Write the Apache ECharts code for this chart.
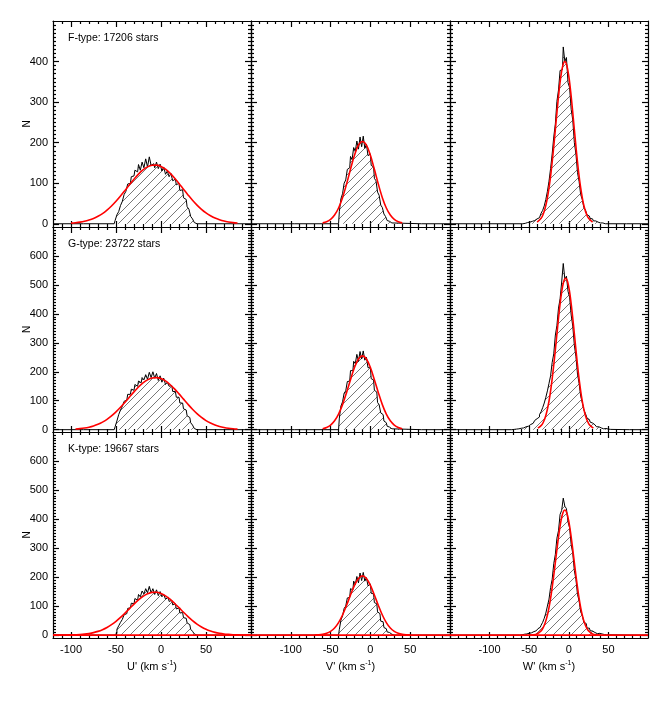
<!DOCTYPE html>
<html>
<head>
<meta charset="utf-8">
<script src="https://cdn.jsdelivr.net/npm/echarts@6/dist/echarts.min.js"></script>
<style>
  html, body { margin: 0; padding: 0; background: #fff; }
  #chart { width: 661px; height: 709px; }
</style>
</head>
<body>
<div id="chart"></div>
<script>
// ---- data ----
const panelTitles = ['F-type: 17206 stars', 'G-type: 23722 stars', 'K-type: 19667 stars'];
const velNames = ["U'", "V'", "W'"];
const xTickLabels = [-100, -50, 0, 50];
const yTickLabelsTop = [0, 100, 200, 300, 400];
const yTickLabelsLow = [0, 100, 200, 300, 400, 500, 600];

// histograms, 2 km/s bins, first bin centre per panel [row][col]
const histStart = [[-50, -38, -56], [-50, -38, -70], [-50, -38, -60]];
const histFU = [8,22,30,45,55,72,80,98,100,116,118,132,128,146,132,152,138,160,140,165,144,148,138,152,136,147,130,140,122,130,116,124,106,110,96,100,82,84,64,60,42,36,18,12,3];
const histFV = [30,62,74,100,108,134,138,166,158,188,178,204,184,214,190,216,186,196,168,172,144,140,112,106,78,70,46,40,24,18,8,6,2];
const histFW = [1,2,3,4,5,6,8,10,12,15,19,26,33,44,60,80,105,136,172,214,246,302,330,378,380,436,400,410,348,336,282,256,200,172,126,104,72,60,40,34,22,19,13,12,7,7,4,5,2,2,1];
const histGU = [10,30,52,68,80,98,102,122,122,140,136,156,150,168,162,180,172,190,174,198,180,200,178,194,170,186,164,178,156,164,150,152,132,132,112,112,92,92,72,68,48,42,24,16,4];
const histGV = [40,82,96,126,134,166,168,204,204,236,228,260,236,270,244,272,240,250,214,214,176,172,136,130,94,86,58,52,30,24,12,9,3];
const histGW = [1,2,2,3,4,5,6,8,10,12,15,18,22,27,32,38,44,52,62,76,92,112,134,160,186,232,262,326,360,420,452,510,574,520,530,478,458,396,358,292,252,192,160,116,94,68,56,40,35,26,23,17,15,10,10,6,6,3,4,2,2,1];
const histKU = [6,20,32,44,54,70,74,92,94,110,108,126,120,140,132,152,142,160,146,168,146,160,140,156,136,150,132,140,124,130,116,120,104,108,90,94,76,78,60,58,42,36,20,13,4];
const histKV = [20,52,66,92,100,128,130,160,156,186,174,202,180,214,188,216,186,198,170,176,144,142,112,108,80,74,48,46,26,22,11,9,3,1];
const histKW = [1,2,3,4,5,6,8,10,12,15,18,22,27,34,44,58,76,100,124,164,192,246,278,334,360,416,430,472,444,436,390,370,312,282,222,192,140,118,80,68,44,40,24,24,15,14,9,9,5,6,3,4,2,2,1,1];

// gaussian fits (red), sampled from the curves
const fitXU = [-120,-115,-110,-105,-100,-95,-90,-85,-80,-75,-70,-65,-60,-55,-50,-45,-40,-35,-30,-25,-20,-15,-10,-5,0,5,10,15,20,25,30,35,40,45,50,55,60,65,70,75,80,85,90,95,100];
const fitXV = [-70,-65,-60,-55,-50,-45,-40,-35,-30,-25,-20,-15,-10,-5,0,5,10,15,20,25,30,35,40,45,50];
const fitXW5 = [-50,-45,-40,-35,-32.5,-30,-27.5,-25,-22.5,-20,-17.5,-15,-12.5,-10,-7.5,-5,-2.5,0,2.5,5,7.5,10,12.5,15,17.5,20,22.5,25,30,35,40];
const fitXW4 = [-49,-44,-39,-34,-31.5,-29,-26.5,-24,-21.5,-19,-16.5,-14,-11.5,-9,-6.5,-4,-1.5,1,3.5,6,8.5,11,13.5,16,18.5,21,23.5,26,31,36,41];
const fitFU = [0.2,0.3,0.6,1,1.6,2.6,4,6.1,9.1,13,18.4,25,33.6,43.8,55.4,68.4,82.3,96.4,110,122.5,132.8,140.2,144.3,144.7,141.3,134.5,124.8,112.7,99.2,85.1,71.2,57.9,46,35.5,26.7,19.6,14,9.8,6.6,4.4,2.8,1.8,1.1,0.6,0.4];
const fitGU = [0.1,0.2,0.4,0.8,1.3,2.2,3.6,5.6,8.6,12.8,18.5,26,35.6,47.4,61.4,77.3,94.7,112.8,130.7,147.3,161.5,172.1,178.4,179.9,176.4,168.3,156.1,140.9,123.6,105.5,87.6,70.7,55.6,42.4,31.5,22.8,16,10.9,7.3,4.7,3,1.8,1.1,0.6,0.3];
const fitKU = [0.1,0.1,0.2,0.4,0.7,1.3,2.1,3.5,5.6,8.6,12.8,18.7,26.3,35.9,47.4,60.8,75.7,91.3,106.9,121.2,133.4,142.3,147.2,147.6,143.6,135.4,123.9,109.9,94.5,78.8,63.7,50,38,28,20,13.9,9.3,6.1,3.8,2.4,1.4,0.8,0.5,0.2,0.1];
const fitFV = [0.3,0.8,2.1,4.9,10.8,21.4,38.9,64.4,97.4,134.3,168.9,193.9,203,193.9,168.9,134.3,97.4,64.4,38.9,21.4,10.8,4.9,2.1,0.8,0.3];
const fitGV = [0.5,1.4,3.4,7.7,16,30.6,53.7,86.5,127.7,172.8,214.5,244.2,255,244.2,214.5,172.8,127.7,86.5,53.7,30.6,16,7.7,3.4,1.4,0.5];
const fitKV = [0.4,1.1,2.7,6.1,12.8,24.5,43,69.2,102.1,138.3,171.6,195.4,204,195.4,171.6,138.3,102.1,69.2,43,24.5,12.8,6.1,2.7,1.1,0.4];
const fitFW = [0.2,0.9,3.9,13.3,22.9,37.6,59,88.2,125.7,170.8,221.6,274.1,323.4,363.9,390.6,400,390.6,363.9,323.4,274.1,221.6,170.8,125.7,88.2,59,37.6,22.9,13.3,3.9,0.9,0.2];
const fitGW = [0.2,1.2,5.1,17.4,30,49.2,77.1,115.3,164.3,223.4,289.7,358.4,422.8,475.8,510.8,523,510.8,475.8,422.8,358.4,289.7,223.4,164.3,115.3,77.1,49.2,30,17.4,5.1,1.2,0.2];
const fitKW = [0.2,1,4.2,14.4,24.7,40.6,63.6,95,135.4,184.1,238.8,295.3,348.4,392.1,420.9,431,420.9,392.1,348.4,295.3,238.8,184.1,135.4,95,63.6,40.6,24.7,14.4,4.2,1,0.2];

const hists = [[histFU, histFV, histFW], [histGU, histGV, histGW], [histKU, histKV, histKW]];
const fitsY = [[fitFU, fitFV, fitFW], [fitGU, fitGV, fitGW], [fitKU, fitKV, fitKW]];
const fitsX = [[fitXU, fitXV, fitXW5], [fitXU, fitXV, fitXW4], [fitXU, fitXV, fitXW5]];

// ---- layout ----
const colLeft = [53, 251, 450], colWidth = [198, 199, 198];
const rowTop = [21, 227, 432], rowHeight = [206, 205, 206];
const xRange = [[-120, 100], [-150, 100], [-150, 100]];
const yRange = [[-8, 500], [-8, 700], [-10, 700]];
const FONT = 'Liberation Sans';

// diagonal hatch used under the histograms
const hatch = document.createElement('canvas');
hatch.width = 9; hatch.height = 9;
const hc = hatch.getContext('2d');
hc.strokeStyle = '#555';
hc.lineWidth = 0.8;
hc.beginPath(); hc.moveTo(-1, 10); hc.lineTo(10, -1); hc.stroke();

function range(a, b, step, skip) {
  const out = [];
  for (let v = a; v <= b; v += step) if (!skip.includes(v)) out.push(v);
  return out;
}

const grids = [], xAxes = [], yAxes = [], series = [];
const black = { color: '#000', width: 1.2 };

for (let r = 0; r < 3; r++) {
  for (let c = 0; c < 3; c++) {
    const p = r * 3 + c;
    grids.push({ left: colLeft[c], top: rowTop[r], width: colWidth[c], height: rowHeight[r] });
    const [xmin, xmax] = xRange[c];
    const [ymin, ymax] = yRange[r];
    const yMajor = r === 0 ? yTickLabelsTop : yTickLabelsLow;
    const xMinor = range(xmin + 10, xmax - 10, 10, xTickLabels);
    const yMinor = range(10, ymax - 10, 10, yMajor);

    const xb = { type: 'value', gridIndex: p, min: xmin, max: xmax, splitLine: { show: false } };
    xAxes.push(
      Object.assign({}, xb, {
        position: 'bottom',
        axisLine: { show: true, onZero: false, lineStyle: black },
        axisTick: { inside: true, length: 6, customValues: xTickLabels, lineStyle: black },
        axisLabel: { show: r === 2, customValues: xTickLabels, margin: 6, color: '#000', fontSize: 11, fontFamily: FONT },
        name: r === 2 ? '{n|' + velNames[c] + ' (km s}{s|-1}{n|)}' : '',
        nameLocation: 'middle', nameGap: 22, nameMoveOverlap: false,
        nameTextStyle: { rich: {
          n: { fontSize: 11, fontFamily: FONT, color: '#000' },
          s: { fontSize: 7, fontFamily: FONT, color: '#000', padding: [0, 0, 7, 0] }
        } }
      }),
      Object.assign({}, xb, {
        position: 'bottom', axisLine: { show: false, onZero: false },
        axisTick: { inside: true, length: 3, customValues: xMinor, lineStyle: black },
        axisLabel: { show: false }
      }),
      Object.assign({}, xb, {
        position: 'top', axisLine: { show: true, onZero: false, lineStyle: black },
        axisTick: { inside: true, length: 6, customValues: xTickLabels, lineStyle: black },
        axisLabel: { show: false }
      }),
      Object.assign({}, xb, {
        position: 'top', axisLine: { show: false, onZero: false },
        axisTick: { inside: true, length: 3, customValues: xMinor, lineStyle: black },
        axisLabel: { show: false }
      })
    );

    const yb = { type: 'value', gridIndex: p, min: ymin, max: ymax, splitLine: { show: false } };
    yAxes.push(
      Object.assign({}, yb, {
        position: 'left',
        axisLine: { show: true, onZero: false, lineStyle: black },
        axisTick: { inside: true, length: 6, customValues: yMajor, lineStyle: black },
        axisLabel: { show: c === 0, customValues: yMajor, margin: 5, color: '#000', fontSize: 11, fontFamily: FONT },
        name: c === 0 ? 'N' : '', nameLocation: 'middle', nameGap: 21, nameRotate: 90,
        nameMoveOverlap: false,
        nameTextStyle: { fontSize: 10, fontFamily: FONT, color: '#000' }
      }),
      Object.assign({}, yb, {
        position: 'left', axisLine: { show: false, onZero: false },
        axisTick: { inside: true, length: 3, customValues: yMinor, lineStyle: black },
        axisLabel: { show: false }
      }),
      Object.assign({}, yb, {
        position: 'right', axisLine: { show: true, onZero: false, lineStyle: black },
        axisTick: { inside: true, length: 6, customValues: yMajor, lineStyle: black },
        axisLabel: { show: false }
      }),
      Object.assign({}, yb, {
        position: 'right', axisLine: { show: false, onZero: false },
        axisTick: { inside: true, length: 3, customValues: yMinor, lineStyle: black },
        axisLabel: { show: false }
      })
    );

    // histogram as a step line with hatched fill, zero outside the bins
    const counts = hists[r][c];
    const s0 = histStart[r][c];
    const last = s0 + 2 * (counts.length - 1);
    const histData = [[xmin, 0], [s0 - 2, 0]];
    counts.forEach((n, i) => histData.push([s0 + 2 * i, n]));
    histData.push([last + 2, 0], [xmax, 0]);
    series.push({
      type: 'line', xAxisIndex: 4 * p, yAxisIndex: 4 * p, step: 'middle',
      data: histData, showSymbol: false, silent: true, z: 2,
      lineStyle: { color: '#000', width: 1 },
      areaStyle: { color: { image: hatch, repeat: 'repeat' }, opacity: 1 }
    });

    // gaussian fit; in the upper rows the far tails are not drawn
    let fit = fitsX[r][c].map((x, i) => [x, fitsY[r][c][i]]);
    if (r < 2) fit = fit.filter(d => d[1] >= 1.5);
    series.push({
      type: 'line', xAxisIndex: 4 * p, yAxisIndex: 4 * p, data: fit,
      smooth: 0.35, showSymbol: false, silent: true, z: 4,
      lineStyle: { color: '#ff0000', width: 1.6 }
    });
    if (r === 2) {
      series.push({
        type: 'line', xAxisIndex: 4 * p, yAxisIndex: 4 * p,
        data: [[xmin, 0], [xmax, 0]], showSymbol: false, silent: true, z: 3,
        lineStyle: { color: '#ff0000', width: 1.6 }
      });
    }
  }
}

const chart = echarts.init(document.getElementById('chart'));
chart.setOption({
  animation: false,
  backgroundColor: '#fff',
  grid: grids,
  xAxis: xAxes,
  yAxis: yAxes,
  series: series,
  graphic: panelTitles.map((t, r) => ({
    type: 'text', left: 68, top: rowTop[r] + 12,
    style: { text: t, fontSize: 10.5, fontFamily: FONT, fill: '#000' }
  }))
});
</script>
</body>
</html>
